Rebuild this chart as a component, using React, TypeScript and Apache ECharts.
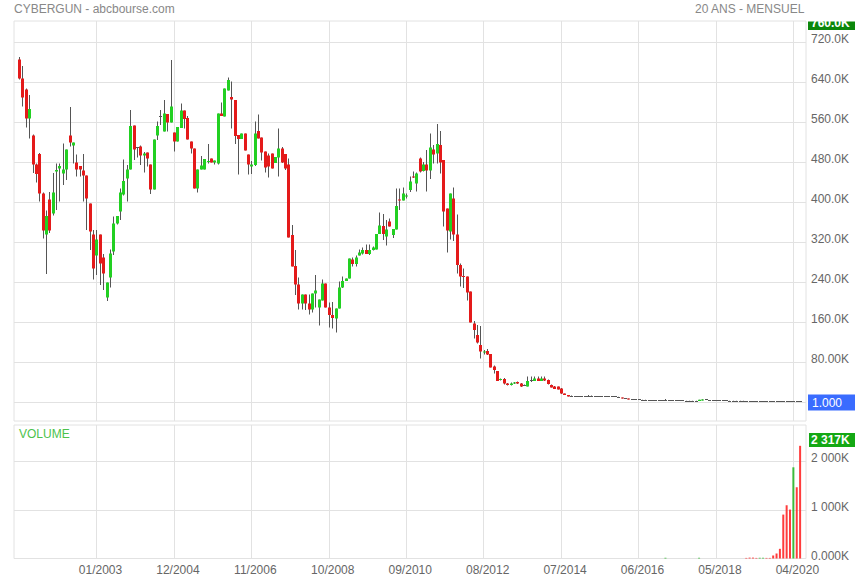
import React, { useEffect, useRef } from "react";
import * as echarts from "echarts";

// First monthly candle of the series
const firstMonth = { year: 2001, month: 2 };

// Monthly candles, in thousands: [open, close, low, high]
const ohlc: number[][] = [
  [685, 647, 645, 690], [647, 609, 591, 672], [625, 567, 549, 627], [567, 586, 527, 614],
  [533, 475, 458, 535], [475, 456, 439, 477], [496, 417, 401, 498], [417, 343, 327, 419],
  [335, 372, 256, 383], [405, 343, 338, 420], [377, 419, 373, 458], [461, 464, 384, 477],
  [467, 472, 401, 477], [457, 465, 434, 517], [465, 505, 444, 505], [533, 519, 511, 590],
  [513, 519, 477, 519], [479, 465, 451, 495], [472, 465, 451, 472], [463, 453, 401, 496],
  [453, 407, 344, 453], [397, 341, 304, 397], [335, 267, 245, 344], [293, 325, 254, 344],
  [335, 277, 234, 335], [289, 257, 224, 296], [209, 239, 202, 239], [249, 297, 229, 305],
  [301, 357, 294, 371], [357, 372, 355, 372], [381, 419, 364, 427], [415, 442, 413, 485],
  [447, 465, 401, 474], [465, 552, 465, 584], [553, 505, 484, 553], [509, 508, 489, 509],
  [511, 493, 474, 513], [493, 497, 459, 500], [499, 487, 471, 499], [475, 425, 416, 475],
  [425, 525, 425, 525], [533, 552, 524, 561], [571, 572, 554, 584], [541, 577, 541, 604],
  [576, 559, 541, 576], [559, 591, 559, 684], [539, 521, 501, 539], [521, 550, 521, 550],
  [548, 583, 548, 597], [583, 566, 547, 583], [568, 525, 525, 572], [521, 507, 497, 521],
  [507, 427, 427, 507], [427, 465, 419, 465], [465, 473, 465, 492], [465, 486, 465, 486],
  [480, 482, 477, 516], [487, 479, 479, 487], [479, 483, 475, 483], [477, 577, 475, 577],
  [577, 572, 572, 599], [571, 627, 571, 627], [623, 644, 623, 649], [610, 605, 547, 641],
  [604, 532, 516, 604], [534, 526, 455, 534], [526, 537, 526, 537], [537, 503, 503, 537],
  [495, 475, 455, 495], [471, 475, 456, 482], [474, 537, 472, 561], [542, 527, 527, 575],
  [529, 499, 483, 529], [501, 469, 459, 501], [493, 471, 449, 497], [497, 467, 467, 497],
  [478, 490, 478, 490], [489, 507, 451, 547], [507, 479, 478, 510], [496, 467, 464, 496],
  [475, 329, 329, 487], [334, 271, 271, 354], [272, 235, 214, 304], [235, 197, 185, 249],
  [197, 215, 185, 215], [215, 197, 184, 215], [197, 185, 175, 215], [185, 217, 179, 217],
  [217, 223, 189, 254], [189, 205, 153, 205], [203, 237, 203, 245], [237, 189, 189, 237],
  [189, 174, 149, 199], [174, 168, 147, 200], [167, 187, 139, 187], [187, 229, 187, 241],
  [229, 242, 228, 251], [242, 247, 242, 247], [247, 287, 247, 287], [285, 276, 271, 289],
  [276, 289, 271, 293], [293, 299, 293, 305], [297, 304, 295, 309], [304, 296, 296, 315],
  [296, 304, 294, 315], [304, 309, 303, 311], [305, 336, 305, 336], [336, 353, 336, 379],
  [352, 336, 324, 376], [331, 345, 313, 364], [361, 351, 351, 367], [334, 346, 328, 346],
  [345, 392, 345, 427], [405, 403, 384, 427], [403, 417, 403, 429], [411, 413, 407, 417],
  [424, 441, 420, 451], [451, 449, 448, 461], [437, 457, 421, 459], [487, 461, 459, 489],
  [462, 475, 461, 480], [475, 463, 421, 504], [463, 509, 446, 537], [505, 495, 477, 514],
  [497, 516, 477, 556], [514, 479, 457, 542], [484, 381, 351, 484], [387, 343, 299, 387],
  [341, 417, 325, 417], [407, 335, 322, 429], [335, 274, 257, 375], [274, 251, 231, 277],
  [252, 250, 228, 267], [251, 219, 203, 251], [221, 159, 159, 221], [157, 144, 127, 162],
  [134, 119, 117, 154], [114, 101, 87, 152], [99, 101, 95, 104], [102, 95, 94, 106],
  [96, 69, 69, 96], [71, 64, 57, 73], [62, 42, 42, 62], [44, 46, 43, 47],
  [46, 37, 35, 48], [37, 34, 33, 38], [34, 37, 33, 39], [37, 39, 36, 40],
  [40, 37, 36, 41], [37, 31, 30, 38], [33, 34, 32, 35], [31, 42, 31, 51],
  [42, 43, 40, 51], [42, 47, 42, 51], [47, 42, 42, 51], [42, 47, 42, 51],
  [47, 43, 42, 51], [44, 36, 35, 45], [34, 29, 29, 35], [31, 26, 26, 32],
  [31, 25, 25, 31], [27, 17, 16, 28], [17, 14, 14, 17], [14, 11, 11, 14],
  [11, 11, 10, 13], [11, 11, 10, 12], [11, 11, 10.5, 11.5], [11, 11, 10, 12],
  [11, 11, 10.5, 11.5], [11, 12.5, 10, 14], [12.5, 11.5, 11, 13], [11, 11, 10, 12],
  [11, 11, 10.5, 11.5], [11, 11, 10, 12], [11, 11, 10.5, 11.5], [11, 11, 10, 12],
  [11, 10.5, 10, 11.5], [11, 10, 10, 11], [10.5, 9, 9, 10.5], [9, 7, 7, 9],
  [7, 7, 6.5, 7.5], [7, 5, 5, 7], [5.5, 4, 4, 5.5], [4, 5.5, 4, 5.5],
  [4.5, 5.5, 4.5, 5.5], [4, 4, 3.5, 4.5], [4, 4, 3.5, 4.5], [4, 3.5, 3.5, 4],
  [3.5, 3.5, 3, 4], [3.5, 3.5, 3, 4], [3.5, 3.5, 3, 4], [3.5, 3.5, 3, 4],
  [3.5, 4, 3.5, 6], [4, 3.5, 3.5, 4], [3.5, 3.5, 3, 4], [3.5, 3.5, 3, 4],
  [3.5, 3.5, 3, 4], [3.5, 3, 2.5, 3.5], [2, 2, 1.5, 2.5], [2, 2, 1.5, 2.5],
  [2, 2, 1.5, 2.5], [2, 2, 1.5, 2.5], [2, 4.5, 2, 4.5], [3, 5, 3, 5.5],
  [5, 4, 4, 5], [4, 3.5, 3.5, 4], [3.5, 3.5, 3, 4], [2.5, 4, 2.5, 4],
  [3, 3, 2.5, 3.5], [3, 3, 2.5, 3.5], [3, 2, 2, 3], [2, 2, 1.5, 2.5],
  [2, 2, 1.5, 2.5], [2, 2, 1.5, 2.5], [2, 2, 1.5, 2.5], [2, 2, 1.5, 2.5],
  [2, 1, 1, 2], [1, 0.8, 0.6, 1], [0.8, 0.6, 0.5, 0.8], [0.6, 0.5, 0.4, 0.6],
  [0.5, 0.55, 0.4, 0.6], [0.55, 0.6, 0.4, 0.6], [0.6, 0.5, 0.4, 0.6], [0.5, 0.4, 0.3, 0.5],
  [0.4, 0.3, 0.2, 0.4], [0.3, 0.2, 0.15, 0.3], [0.2, 0.1, 0.08, 0.2], [0.1, 0.05, 0.04, 0.1],
  [0.05, 0.03, 0.02, 0.05], [0.03, 0.002, 0.002, 0.03], [0.002, 0.003, 0.001, 0.004], [0.003, 0.0015, 0.001, 0.003],
  [0.0015, 0.001, 0.001, 0.002],
];

// Monthly volume, in thousands
const volumes: number[] = [
  0, 0, 0, 0, 0, 0, 0, 0, 0, 0, 0, 0, 0, 0, 0, 0, 0, 0, 0, 0, 0, 0, 0, 0,
  0, 0, 0, 0, 0, 0, 0, 0, 0, 0, 0, 0, 0, 0, 0, 0, 0, 0, 0, 0, 0, 0, 0, 0,
  0, 0, 0, 0, 0, 0, 0, 0, 0, 0, 0, 0, 0, 0, 0, 0, 0, 0, 0, 0, 0, 0, 0, 0,
  0, 0, 0, 0, 0, 0, 0, 0, 0, 0, 0, 0, 0, 0, 0, 0, 0, 0, 0, 0, 0, 0, 0, 0,
  0, 0, 0, 0, 0, 0, 0, 0, 0, 0, 0, 0, 0, 0, 0, 0, 0, 0, 0, 0, 0, 0, 0, 0,
  0, 0, 0, 0, 0, 0, 0, 0, 0, 0, 0, 0, 0, 0, 0, 0, 0, 0, 0, 0, 0, 0, 0, 0,
  0, 0, 0, 0, 0, 0, 0, 0, 0, 0, 0, 0, 0, 0, 0, 0, 0, 0, 0, 0, 0, 0, 0, 0,
  0, 0, 0, 0, 0, 0, 0, 0, 0, 0, 0, 0, 0, 0, 0, 0, 0, 0, 0, 0, 0, 0, 0, 0,
  15, 0, 0, 0, 0, 0, 0, 0, 0, 0, 15, 0, 0, 0, 0, 0, 0, 0, 0, 0, 0, 0, 0, 0,
  12, 18, 18, 12, 15, 15, 12, 12, 62, 103, 199, 903, 1095, 1006, 1875, 1465, 2317,
];

const xTickLabels = ["01/2003", "12/2004", "11/2006", "10/2008", "09/2010", "08/2012", "07/2014", "06/2016", "05/2018", "04/2020"];
const priceTicks = [0, 80, 160, 240, 320, 400, 480, 560, 640, 720];
const volumeTicks = [0, 1000, 2000];

const months: string[] = ohlc.map((_, k) => {
  const m0 = firstMonth.month - 1 + k;
  const y = firstMonth.year + Math.floor(m0 / 12);
  const m = (m0 % 12) + 1;
  return String(m).padStart(2, "0") + "/" + y;
});

const FONT = '"Liberation Sans", Arial, sans-serif';
const GRID = "#e2e2e2";
const UP = "#22d022";
const DOWN = "#e41a1a";
const FLAT = "#555";
const VOL_UP = "#3cbc3c";
const VOL_DOWN = "#ff3c3c";

export default function App() {
  const ref = useRef<HTMLDivElement>(null);

  useEffect(() => {
    if (!ref.current) return;
    const chart = echarts.init(ref.current, undefined, { renderer: "svg" });
    const tickIdx = xTickLabels.map((l) => months.indexOf(l));

    const candleData = ohlc.map((d, i) => [i, d[0], d[1], d[2], d[3]]);
    const volData = volumes.map((v, i) => ({
      value: [i, v],
      itemStyle: { color: ohlc[i][1] >= ohlc[i][0] ? VOL_UP : VOL_DOWN },
    }));

    const priceFmt = (v: number) => (v >= 100 ? v.toFixed(1) : v.toFixed(2)) + "K";
    const volFmt = (v: number) =>
      v === 0 ? "0.000K" : String(Math.round(v)).replace(/\B(?=(\d{3})+(?!\d))/g, " ") + "K";

    const labelStyle = { color: "#666", fontSize: 12, fontFamily: FONT };

    const option: any = {
      animation: false,
      textStyle: { fontFamily: FONT },
      grid: [
        { left: 14, right: 49, top: 21, height: 400, show: true, borderColor: GRID, borderWidth: 1 },
        { left: 14, right: 49, top: 425, height: 133.5, show: true, borderColor: GRID, borderWidth: 1 },
      ],
      xAxis: [
        {
          type: "value", gridIndex: 0, min: -1.5, max: 233.75,
          axisLine: { show: false },
          axisTick: { show: false, customValues: tickIdx },
          axisLabel: { show: false, customValues: tickIdx },
          splitLine: { show: true, lineStyle: { color: GRID, width: 1 } },
        },
        {
          type: "value", gridIndex: 1, min: -1.5, max: 233.75,
          axisLine: { show: false },
          axisTick: { show: false, customValues: tickIdx },
          axisLabel: {
            show: true, customValues: tickIdx, ...labelStyle, margin: 5, padding: [0, 0, 0, 8],
            formatter: (v: number) => months[Math.round(v)] || "",
          },
          splitLine: { show: true, lineStyle: { color: GRID, width: 1 } },
        },
      ],
      yAxis: [
        {
          type: "value", gridIndex: 0, position: "right", min: -38, max: 762,
          axisLine: { show: false },
          axisTick: { show: false, customValues: priceTicks },
          axisLabel: {
            customValues: priceTicks.filter((v) => v > 0), ...labelStyle, margin: 5,
            verticalAlign: "bottom", lineHeight: 6, formatter: priceFmt,
          },
          splitLine: { show: true, lineStyle: { color: GRID, width: 1 } },
        },
        {
          type: "value", gridIndex: 1, position: "right", min: 0, max: 2745,
          axisLine: { show: false },
          axisTick: { show: false, customValues: volumeTicks },
          axisLabel: {
            customValues: volumeTicks, ...labelStyle, margin: 5,
            verticalAlign: "bottom", lineHeight: 6, formatter: volFmt,
          },
          splitLine: { show: true, lineStyle: { color: GRID, width: 1 } },
        },
      ],
      series: [
        {
          type: "custom",
          xAxisIndex: 0,
          yAxisIndex: 0,
          clip: true,
          encode: { x: 0, y: [1, 2, 3, 4] },
          data: candleData,
          renderItem: (_params: any, api: any) => {
            const i = api.value(0);
            const o = api.value(1);
            const c = api.value(2);
            const l = api.value(3);
            const h = api.value(4);
            const pO = api.coord([i, o]);
            const pC = api.coord([i, c]);
            const pL = api.coord([i, l]);
            const pH = api.coord([i, h]);
            const cx = Math.round(pO[0]);
            let top = Math.min(pO[1], pC[1]);
            let hgt = Math.abs(pO[1] - pC[1]);
            let fill = c >= o ? UP : DOWN;
            if (hgt < 1) {
              top = Math.round((pO[1] + pC[1]) / 2 - 0.5);
              hgt = 1;
              fill = FLAT;
            }
            return {
              type: "group",
              children: [
                {
                  type: "line",
                  shape: { x1: cx + 0.5, y1: Math.min(pH[1], top), x2: cx + 0.5, y2: Math.max(pL[1], top + hgt) },
                  style: { stroke: "#555", lineWidth: 1 },
                },
                {
                  type: "rect",
                  shape: { x: cx - 1, y: top, width: 3, height: hgt },
                  style: { fill },
                },
              ],
            };
          },
        },
        {
          type: "bar",
          xAxisIndex: 1,
          yAxisIndex: 1,
          barWidth: 2,
          data: volData,
        },
      ],
      graphic: [
        {
          type: "text", left: 14, top: 3, z: 100,
          style: { text: "CYBERGUN - abcbourse.com", fill: "#888", font: `12px ${FONT}` },
        },
        {
          type: "text", right: 50, top: 3, z: 100,
          style: { text: "20 ANS - MENSUEL", fill: "#888", font: `12px ${FONT}` },
        },
        {
          type: "text", left: 19, top: 428, z: 100,
          style: { text: "VOLUME", fill: "#4cc24c", font: `12px ${FONT}` },
        },
        { type: "rect", shape: { x: 808, y: 13, width: 47, height: 17 }, style: { fill: "#0b870b" }, z: 100 },
        {
          type: "text", left: 811, top: 17, z: 101,
          style: { text: "760.0K", fill: "#fff", font: `bold 12px ${FONT}` },
        },
        { type: "rect", shape: { x: 807.5, y: 0, width: 48, height: 21.5 }, style: { fill: "#fff" }, z: 102 },
        { type: "rect", shape: { x: 808, y: 394.5, width: 47, height: 16 }, style: { fill: "#3a6cff" }, z: 100 },
        {
          type: "text", left: 812, top: 396.5, z: 101,
          style: { text: "1.000", fill: "#fff", font: `12px ${FONT}` },
        },
        { type: "rect", shape: { x: 809, y: 433, width: 46, height: 14 }, style: { fill: "#14a814" }, z: 100 },
        {
          type: "text", left: 811, top: 434, z: 101,
          style: { text: "2 317K", fill: "#fff", font: `bold 12px ${FONT}` },
        },
      ],
    };

    chart.setOption(option);
    return () => chart.dispose();
  }, []);

  return (
    <div
      ref={ref}
      style={{ position: "fixed", left: 0, top: 0, width: 855, height: 580, background: "#fff" }}
    />
  );
}
